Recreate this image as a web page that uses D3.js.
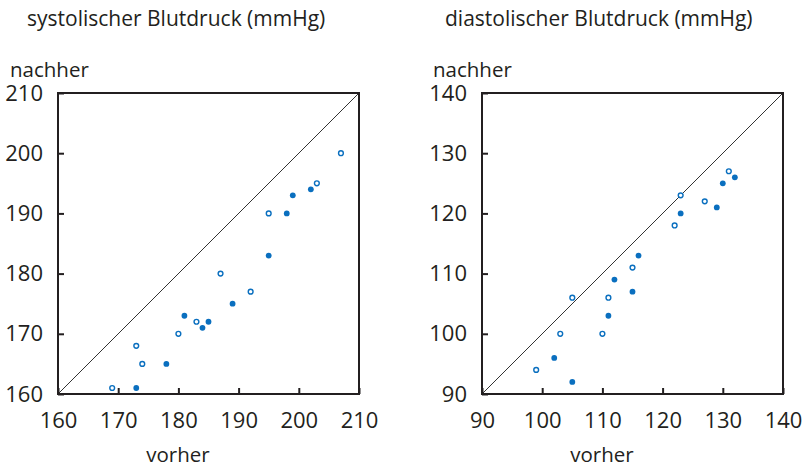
<!DOCTYPE html>
<meta charset="UTF-8">
<head>
<script src="https://d3js.org/d3.v7.min.js"></script>
</head>
<style>
body { margin: 0; background: #fff; }
text { font-family: "Open Sans", sans-serif; fill: #231f20; }
.frame { fill: none; stroke: #231f20; stroke-width: 2px; }
.diag { stroke: #333; stroke-width: 1px; }
.tick line { stroke: #231f20; stroke-width: 2px; }
.tick text { font-size: 22px; }
</style>
<body>
<div id="chart"></div>
<script>

// systolic: vorher (x) / nachher (y), open and filled circles
var sysOpenX   = [169, 173, 174, 180, 183, 187, 192, 195, 203, 207];
var sysOpenY   = [161, 168, 165, 170, 172, 180, 177, 190, 195, 200];
var sysFilledX = [173, 178, 181, 184, 185, 189, 195, 198, 199, 202];
var sysFilledY = [161, 165, 173, 171, 172, 175, 183, 190, 193, 194];
var sysTicks   = [160, 170, 180, 190, 200, 210];

// diastolic
var diaOpenX   = [99, 103, 105, 110, 111, 115, 122, 123, 127, 131];
var diaOpenY   = [94, 100, 106, 100, 106, 111, 118, 123, 122, 127];
var diaFilledX = [102, 105, 111, 112, 115, 116, 123, 129, 130, 132];
var diaFilledY = [96, 92, 103, 109, 107, 113, 120, 121, 125, 126];
var diaTicks   = [90, 100, 110, 120, 130, 140];

var titles = ["systolischer Blutdruck (mmHg)", "diastolischer Blutdruck (mmHg)"];

var blue = "#0a6fbf";

var svg = d3.select("#chart").append("svg")
    .attr("width", 807)
    .attr("height", 468);

var size = 301, plotTop = 93;

var panels = [
  {left: 58, title: titles[0], tx: 27, nx: 10, ticks: sysTicks,
   open: d3.zip(sysOpenX, sysOpenY), filled: d3.zip(sysFilledX, sysFilledY)},
  {left: 482, title: titles[1], tx: 445, nx: 433, ticks: diaTicks,
   open: d3.zip(diaOpenX, diaOpenY), filled: d3.zip(diaFilledX, diaFilledY)}
];

panels.forEach(function(p) {
  var dom = d3.extent(p.ticks);
  var x = d3.scaleLinear().domain(dom).range([0, size]);
  var y = d3.scaleLinear().domain(dom).range([size, 0]);

  svg.append("text")
      .attr("x", p.tx).attr("y", 26)
      .style("font-size", "21px")
      .text(p.title);

  svg.append("text")
      .attr("x", p.nx).attr("y", 77)
      .style("font-size", "20.5px")
      .text("nachher");

  var g = svg.append("g")
      .attr("transform", "translate(" + p.left + "," + plotTop + ")");

  // diagonal y = x
  g.append("line")
      .attr("class", "diag")
      .attr("x1", x(dom[0])).attr("y1", y(dom[0]))
      .attr("x2", x(dom[1])).attr("y2", y(dom[1]));

  var xAxis = g.append("g")
      .attr("transform", "translate(0," + size + ")")
      .call(d3.axisBottom(x).tickValues(p.ticks).tickSizeInner(-6).tickSizeOuter(0).tickPadding(18));
  var yAxis = g.append("g")
      .call(d3.axisLeft(y).tickValues(p.ticks).tickSizeInner(-6).tickSizeOuter(0).tickPadding(15));
  xAxis.select(".domain").remove();
  yAxis.select(".domain").remove();
  g.selectAll(".tick text").attr("fill", "#231f20").style("font-family", "Open Sans");

  g.append("rect")
      .attr("class", "frame")
      .attr("width", size).attr("height", size);

  g.selectAll("circle.open")
    .data(p.open)
    .enter().append("circle")
      .attr("class", "open")
      .attr("cx", function(d) { return x(d[0]); })
      .attr("cy", function(d) { return y(d[1]); })
      .attr("r", 2.4)
      .style("fill", "#fff")
      .style("stroke", blue)
      .style("stroke-width", 1.4);

  g.selectAll("circle.filled")
    .data(p.filled)
    .enter().append("circle")
      .attr("class", "filled")
      .attr("cx", function(d) { return x(d[0]); })
      .attr("cy", function(d) { return y(d[1]); })
      .attr("r", 2.9)
      .style("fill", blue);

  svg.append("text")
      .attr("x", p.left + 120).attr("y", 462)
      .attr("text-anchor", "middle")
      .style("font-size", "20.5px")
      .text("vorher");
});

</script>
</body>
